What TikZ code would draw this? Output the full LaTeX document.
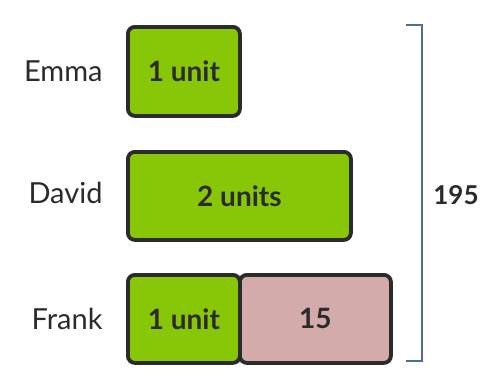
\documentclass[tikz,border=0pt]{standalone}
\usepackage{fontspec}
\setmainfont{Lato}
\definecolor{boxgreen}{HTML}{88C708}
\definecolor{boxpink}{HTML}{D3ABAB}
\definecolor{edge}{HTML}{2B2B2B}
\definecolor{brk}{HTML}{516C96}
\begin{document}
\begin{tikzpicture}[x=1pt,y=-1pt,
  bar/.style={draw=edge,line width=3.8pt,rounded corners=7pt,anchor=north west,inner sep=0pt,
    font=\fontsize{28}{32}\selectfont\bfseries,text=edge},
  who/.style={font=\fontsize{29}{34}\selectfont,text=edge,anchor=east},
  brace/.style={draw=brk,line width=2.8pt}]
\useasboundingbox (0,0) rectangle (503,388);
\node[bar,fill=boxgreen,minimum width=112pt,minimum height=89pt] (e) at (126,25) {1 unit};
\node[bar,fill=boxgreen,minimum width=223pt,minimum height=88pt] (d) at (126,150) {2 units};
\node[bar,fill=boxgreen,minimum width=112pt,minimum height=88pt] (f1) at (126,273) {1 unit};
\node[bar,fill=boxpink,minimum width=151pt,minimum height=88pt] (f2) at (238,273) {15};
\node[who] (ne) at (106,71) {Emma};
\node[who] (nd) at (106,193) {David};
\node[who] (nf) at (106,319) {Frank};
\coordinate (bt) at (406,25);
\coordinate (bb) at (406,361);
\draw[brace] (bt) -- (422,25) -- (422,361) -- (bb);
\node[font=\fontsize{26}{30}\selectfont\bfseries,text=edge] (total) at (456,195) {195};
\end{tikzpicture}
\end{document}
